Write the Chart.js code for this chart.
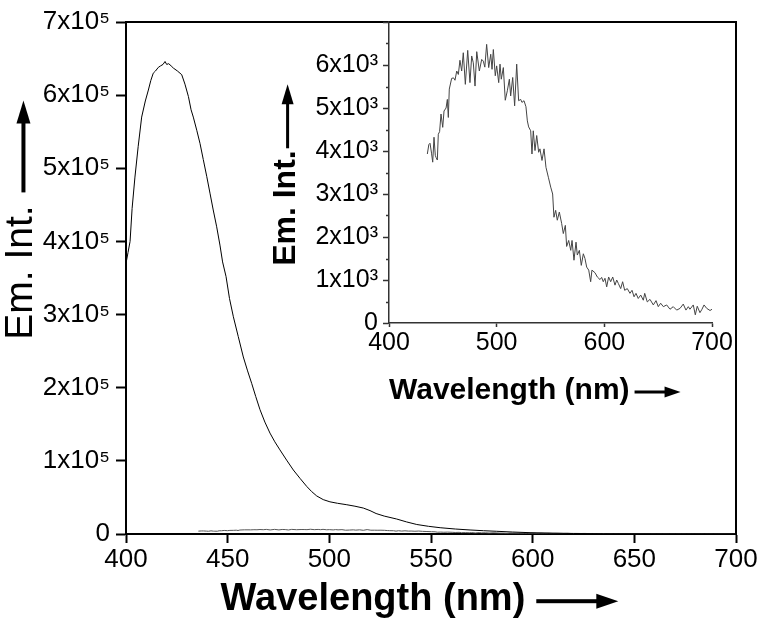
<!DOCTYPE html>
<html><head><meta charset="utf-8">
<script src="https://cdn.jsdelivr.net/npm/chart.js@4.4.1/dist/chart.umd.min.js"></script>
<style>
html,body{margin:0;padding:0;background:#fff;}
#wrap{position:relative;width:763px;height:631px;background:#fff;}
#wrap canvas{position:absolute;left:0;top:0;}
</style></head><body>
<div id="wrap"><canvas id="main" width="763" height="631"></canvas><canvas id="inset" width="763" height="631"></canvas></div>
<script>
// ---------- data ----------
const mainWavelength = [400,401,402,403,404.4,406,407.7,409.5,411,412.2,413.4,414.5,415.9,417,418.2,419.2,420,421,422.2,423.3,
  425.3,427.4,429,430.7,432,433.1,434.8,436.4,438,439.7,441.3,442.9,444.6,446.2,447.5,449.2,450.9,452.8,455.2,457.7,
  459.8,461.8,463.8,465.9,468.3,470.8,473.2,475.7,479,482.3,485.6,488.9,491.3,493.8,497,500.3,504,508.6,512.6,516.7,
  520,523,527,533.1,538,543,548.8,554.5,562,569.2,575.8,582.3,590,598.7,610,620,635,650,670,700];
const mainIntensity = [370000,385000,400000,445000,488000,530000,570000,592000,607000,620000,630000,633000,638000,640000,642000,646000,642000,643000,640000,637000,
  633000,628000,615000,598000,580000,570000,552000,534000,512000,489000,466000,443000,420000,395000,372000,352000,322000,297000,270000,242000,
  223000,206000,188000,170000,153000,138000,126000,115000,101000,87500,76000,65000,58000,52000,47000,44000,42000,40000,38000,35500,
  32000,28000,24500,20500,16500,13000,10500,8600,6800,5500,4500,3700,2700,1800,1100,700,400,300,200,200];

const insetWavelength = [435.6,437,438.1,439.5,440.6,441.8,443,443.7,444.9,445.8,
  447,448.3,449.9,451.1,453,454.2,455.1,456,458.2,460,
  461.3,462.9,464.4,465.9,467.5,469,470.9,473.1,475.2,476.8,
  478.3,479.9,481.5,483.9,486.1,487.6,489,490.7,492.6,494.5,
  495.7,496.9,498.7,500,501.9,503.1,504.3,506.2,508,509.9,
  511.8,513,514.9,516.7,518.6,520.4,522.3,523.5,525.4,527.2,
  528.5,529.7,531.6,532.8,534,535.6,537.2,539,540.2,542.1,
  544,545.8,548,550.2,552,553.2,554.8,556.3,558.2,560.4,
  561.9,563.8,565,566.9,568.8,570,571.8,573.7,574.9,576.8,
  578.6,580.5,582,583.6,585.5,587.3,588.5,591.3,593.5,596,
  597.5,599,600.6,602.2,604,605.9,607.8,609.9,611.5,613,
  615.2,617,618.9,621.3,623.8,625.7,627.6,629.4,631.5,633.8,
  636.2,637.5,639.9,642.4,645.5,648,650.1,652.3,654.8,657.9,
  661,664,667.2,670.3,673.3,675.8,678,679.5,682.6,684.5,
  686.3,688.8,690.7,692.6,695.1,698.2,700];
const insetIntensity = [3930,4150,4180,3950,3740,4320,3900,3850,3790,4390,
  4450,4860,4550,4930,5000,5200,4780,5440,5690,5700,
  5645,5860,5780,6110,5860,6285,5550,6340,5590,6210,
  6050,5510,6310,5860,6130,6090,5950,6480,5940,6250,
  5900,6360,5750,5980,5590,6020,5670,5940,5180,5400,
  5670,5280,5710,5050,6020,5170,5200,5130,5170,5030,
  4700,4560,4470,3930,4470,4010,4360,3970,4050,3780,
  4050,3620,3390,3160,3000,2460,2620,2390,2580,2310,
  2080,2270,1780,1920,1690,1920,1460,1880,1580,1690,
  1340,1610,1500,1300,1230,960,1230,1170,1070,1010,
  1060,960,1040,840,1070,960,1070,880,1000,920,
  800,960,760,800,690,760,610,690,570,650,
  530,690,490,550,420,520,380,460,380,420,
  320,380,300,340,440,300,380,320,420,190,
  390,240,320,420,340,290,320];

const mainXTickLabels = ['400','450','500','550','600','650','700'];
const mainYTickLabels = ['0','1x10\u2075','2x10\u2075','3x10\u2075','4x10\u2075','5x10\u2075','6x10\u2075','7x10\u2075'];
const insetXTickLabels = ['400','500','600','700'];
const insetYTickLabels = ['0','1x10\u00B3','2x10\u00B3','3x10\u00B3','4x10\u00B3','5x10\u00B3','6x10\u00B3',''];
const insetMinorYTicks = [500,1500,2500,3500,4500,5500,6500];

const mainXTitle = 'Wavelength (nm)' + '           ';
const mainYTitle = ' Em. Int.';
const insetXTitle = 'Wavelength (nm)';
const insetYTitle = 'Em. Int.' + '        ';

// ---------- helpers ----------
const FONT = "'Liberation Sans', Arial, Helvetica, sans-serif";
function drawArrow(ctx, x1, y1, x2, y2, shaft, headLen, headW) {
  const L = Math.hypot(x2 - x1, y2 - y1);
  const ang = Math.atan2(y2 - y1, x2 - x1);
  ctx.save();
  ctx.translate(x1, y1); ctx.rotate(ang);
  ctx.fillStyle = '#000';
  ctx.fillRect(0, -shaft / 2, L - headLen + 1, shaft);
  ctx.beginPath();
  ctx.moveTo(L, 0); ctx.lineTo(L - headLen, -headW / 2); ctx.lineTo(L - headLen, headW / 2);
  ctx.closePath(); ctx.fill();
  ctx.restore();
}
function toXY(xs, ys) { return xs.map((x, i) => ({x: x, y: ys[i]})); }

// ---------- main chart ----------
const MX = {size: 38, lh: 1.2, pb: 9};
const MY = {size: 39, lh: 1.1};
const mainDecor = {
  id: 'mainDecor',
  afterDraw(chart) {
    const ctx = chart.ctx, a = chart.chartArea;
    ctx.save();
    ctx.strokeStyle = '#000'; ctx.lineWidth = 2;
    ctx.beginPath();
    ctx.moveTo(a.left - 1, a.top); ctx.lineTo(a.right, a.top); ctx.lineTo(a.right, a.bottom + 1);
    ctx.stroke();
    // y title arrow
    const ys = chart.scales.y;
    const tx = ys.left + MY.size * MY.lh / 2;
    const cy = (ys.top + ys.bottom) / 2;
    ctx.font = `${MY.size}px ${FONT}`;
    const fw = ctx.measureText(mainYTitle).width;
    const endY = cy - fw / 2;
    drawArrow(ctx, tx + 2, endY - 13, tx + 2, endY - 105, 4, 23, 14);
    // x title arrow
    const xs = chart.scales.x;
    const cx = (xs.left + xs.right) / 2;
    const ty = xs.bottom - MX.size * MX.lh / 2 - MX.pb;
    ctx.font = `bold ${MX.size}px ${FONT}`;
    const fullW = ctx.measureText(mainXTitle).width;
    const visW = ctx.measureText(mainXTitle.trimEnd()).width;
    const endX = cx - fullW / 2 + visW;
    drawArrow(ctx, endX + 11, ty + 2, endX + 93, ty + 2, 4, 22, 15);
    ctx.restore();
  }
};

new Chart(document.getElementById('main'), {
  type: 'line',
  data: {datasets: [
    {data: toXY(mainWavelength, mainIntensity), borderColor: '#000', borderWidth: 1, pointRadius: 0, tension: 0, fill: false},
    {data: toXY(insetWavelength, insetIntensity), borderColor: '#555', borderWidth: 1, pointRadius: 0, tension: 0, fill: false}
  ]},
  options: {
    responsive: false, animation: false, devicePixelRatio: 1,
    layout: {padding: {left: 0, top: 22, right: 27, bottom: 0}},
    plugins: {legend: {display: false}, tooltip: {enabled: false}},
    scales: {
      x: {
        type: 'linear', min: 400, max: 700,
        ticks: {stepSize: 50, autoSkip: false, maxRotation: 0, color: '#000', padding: 1,
          font: {family: FONT, size: 26},
          callback: (v) => mainXTickLabels[Math.round((v - 400) / 50)]},
        grid: {display: true, drawOnChartArea: false, drawTicks: true, tickLength: 9, tickWidth: 2, tickColor: '#000'},
        border: {display: true, color: '#000', width: 2},
        title: {display: true, text: mainXTitle, color: '#000',
          font: {family: FONT, size: MX.size, weight: 'bold', lineHeight: MX.lh}, padding: {top: 0, bottom: MX.pb}},
        afterFit: (s) => { s.height = 97; }
      },
      y: {
        type: 'linear', min: 0, max: 700000,
        ticks: {stepSize: 100000, color: '#000', padding: 6,
          font: {family: FONT, size: 26},
          callback: (v) => mainYTickLabels[Math.round(v / 100000)]},
        grid: {display: true, drawOnChartArea: false, drawTicks: true, tickLength: 10, tickWidth: 2, tickColor: '#000'},
        border: {display: true, color: '#000', width: 2},
        title: {display: true, text: mainYTitle, color: '#000',
          font: {family: FONT, size: MY.size, lineHeight: MY.lh}, padding: {top: 0, bottom: 0}},
        afterFit: (s) => { s.width = 126; }
      }
    }
  },
  plugins: [mainDecor]
});

// ---------- inset chart ----------
const IX = {size: 30, lh: 1.2, pb: 14};
const IY = {size: 32, lh: 1.1};
const insetDecor = {
  id: 'insetDecor',
  afterDraw(chart) {
    const ctx = chart.ctx, a = chart.chartArea;
    ctx.save();
    const ys = chart.scales.y;
    ctx.strokeStyle = '#333'; ctx.lineWidth = 1.5;
    insetMinorYTicks.forEach(v => {
      const py = Math.round(ys.getPixelForValue(v)) + 0.5;
      ctx.beginPath(); ctx.moveTo(a.left - 3, py); ctx.lineTo(a.left, py); ctx.stroke();
    });
    // y title arrow
    const tx = ys.left + IY.size * IY.lh / 2;
    const cy = (ys.top + ys.bottom) / 2;
    ctx.font = `bold ${IY.size}px ${FONT}`;
    const fw = ctx.measureText(insetYTitle).width;
    const vw = ctx.measureText(insetYTitle.trimEnd()).width;
    const endY = cy + fw / 2 - vw;
    drawArrow(ctx, tx + 1, endY - 2, tx + 1, endY - 66, 3, 20, 12);
    // x title arrow
    const xs = chart.scales.x;
    const ty = xs.bottom - IX.size * IX.lh / 2 - IX.pb;
    ctx.font = `bold ${IX.size}px ${FONT}`;
    const w = ctx.measureText(insetXTitle).width;
    const endX = xs.left + w;
    drawArrow(ctx, endX + 5, ty + 1, endX + 51, ty + 1, 3, 16, 11);
    ctx.restore();
  }
};

new Chart(document.getElementById('inset'), {
  type: 'line',
  data: {datasets: [
    {data: toXY(insetWavelength, insetIntensity), borderColor: '#444', borderWidth: 1, pointRadius: 0, tension: 0, fill: false}
  ]},
  options: {
    responsive: false, animation: false, devicePixelRatio: 1,
    layout: {padding: {left: 269, top: 22, right: 51, bottom: 208}},
    plugins: {legend: {display: false}, tooltip: {enabled: false}},
    scales: {
      x: {
        type: 'linear', min: 400, max: 700,
        ticks: {stepSize: 100, autoSkip: false, maxRotation: 0, color: '#000', padding: 1,
          font: {family: FONT, size: 25},
          callback: (v) => insetXTickLabels[Math.round((v - 400) / 100)]},
        grid: {display: true, drawOnChartArea: false, drawTicks: true, tickLength: 4, tickWidth: 1.5, tickColor: '#333'},
        border: {display: true, color: '#333', width: 1.5},
        title: {display: true, text: insetXTitle, align: 'start', color: '#000',
          font: {family: FONT, size: IX.size, weight: 'bold', lineHeight: IX.lh}, padding: {top: 0, bottom: IX.pb}},
        afterFit: (s) => { s.height = 100; }
      },
      y: {
        type: 'linear', min: 0, max: 7000,
        ticks: {stepSize: 1000, color: '#000', padding: 5,
          font: {family: FONT, size: 25},
          callback: (v) => insetYTickLabels[Math.round(v / 1000)]},
        grid: {display: true, drawOnChartArea: false, drawTicks: true, tickLength: 6, tickWidth: 1.5, tickColor: '#333'},
        border: {display: true, color: '#333', width: 1.5},
        title: {display: true, text: insetYTitle, color: '#000',
          font: {family: FONT, size: IY.size, weight: 'bold', lineHeight: IY.lh}, padding: {top: 0, bottom: 0}},
        afterFit: (s) => { s.width = 120; }
      }
    }
  },
  plugins: [insetDecor]
});
</script>
</body></html>
